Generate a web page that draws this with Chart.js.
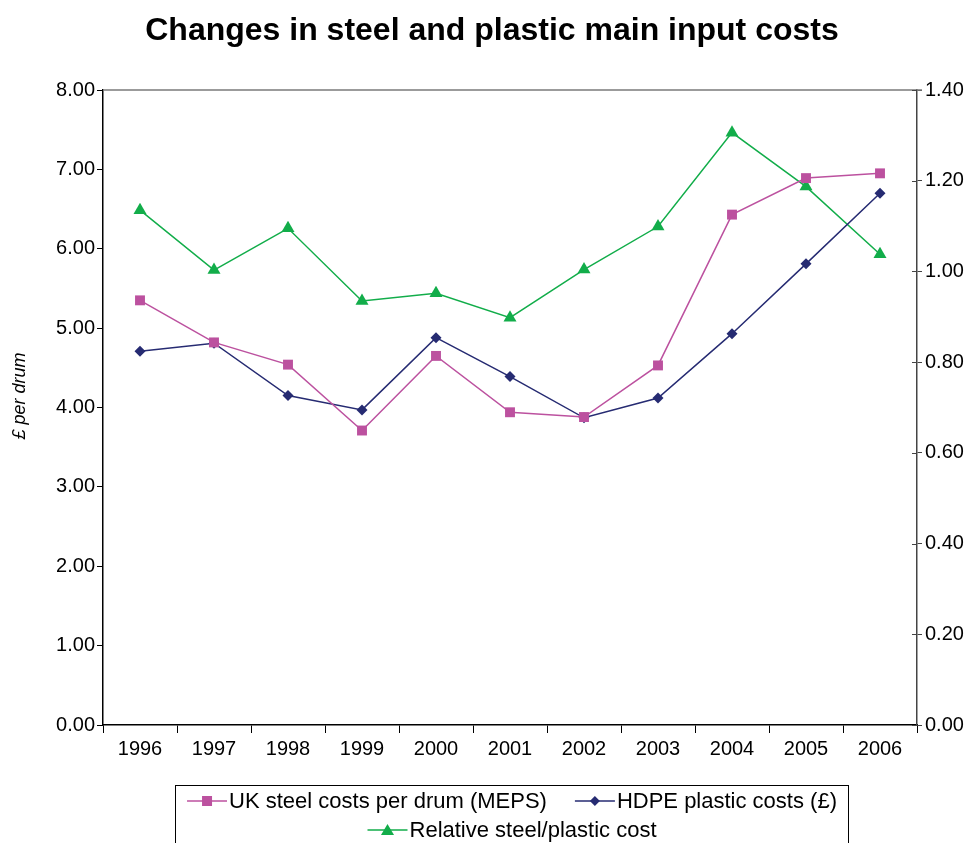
<!DOCTYPE html>
<html>
<head>
<meta charset="utf-8">
<title>Changes in steel and plastic main input costs</title>
<script src="https://cdn.jsdelivr.net/npm/chart.js@4.4.1/dist/chart.umd.min.js"></script>
<style>
  html, body { margin: 0; padding: 0; background: #ffffff; }
  #wrap { width: 978px; height: 843px; position: relative; }
</style>
</head>
<body>
<div id="wrap"><canvas id="chart" width="978" height="843"></canvas></div>
<script>
// Years on the category axis
const years = ['1996', '1997', '1998', '1999', '2000', '2001', '2002', '2003', '2004', '2005', '2006'];

// £ per drum (left axis)
const steelCosts = [5.35, 4.82, 4.54, 3.71, 4.65, 3.94, 3.88, 4.53, 6.43, 6.89, 6.95];
const hdpeCosts  = [4.71, 4.81, 4.15, 3.97, 4.88, 4.39, 3.87, 4.12, 4.93, 5.81, 6.70];

// Ratio of steel to plastic cost (right axis)
const relativeCost = [1.135, 1.003, 1.095, 0.935, 0.952, 0.898, 1.004, 1.099, 1.306, 1.187, 1.038];

// Axis ranges and steps
const leftAxis  = { min: 0, max: 8, step: 1 };
const rightAxis = { min: 0, max: 1.4, step: 0.2 };

const seriesNames = ['UK steel costs per drum (MEPS)', 'HDPE plastic costs (£)', 'Relative steel/plastic cost'];
const chartTitle = 'Changes in steel and plastic main input costs';
const leftAxisTitle = '£ per drum';

const PINK = '#BC519F';
const NAVY = '#262B72';
const GREEN = '#12AD4A';
const FONT = '"Liberation Sans", Arial, Helvetica, sans-serif';

function drawMarker(ctx, style, x, y, color) {
  ctx.save();
  ctx.fillStyle = color;
  ctx.beginPath();
  if (style === 'rect') {
    ctx.rect(x - 5, y - 5, 10, 10);
  } else if (style === 'rectRot') {
    ctx.moveTo(x, y - 5); ctx.lineTo(x + 5, y); ctx.lineTo(x, y + 5); ctx.lineTo(x - 5, y);
    ctx.closePath();
  } else {
    ctx.moveTo(x, y - 6); ctx.lineTo(x + 6.5, y + 5); ctx.lineTo(x - 6.5, y + 5);
    ctx.closePath();
  }
  ctx.fill();
  ctx.restore();
}

// Title, rotated axis title, frame details and the boxed legend
const decorations = {
  id: 'decorations',
  afterDraw(chart) {
    const { ctx, chartArea } = chart;
    ctx.save();

    // title
    ctx.fillStyle = '#000';
    ctx.font = 'bold 32px ' + FONT;
    ctx.textAlign = 'center';
    ctx.textBaseline = 'middle';
    ctx.fillText(chartTitle, 492, 31);

    // left axis title
    ctx.save();
    ctx.translate(20, 396);
    ctx.rotate(-Math.PI / 2);
    ctx.font = 'italic 18px ' + FONT;
    ctx.fillText(leftAxisTitle, 0, 0);
    ctx.restore();

    // top frame line
    ctx.strokeStyle = '#7a7a7a';
    ctx.lineWidth = 1.5;
    ctx.beginPath();
    ctx.moveTo(chartArea.left, chartArea.top);
    ctx.lineTo(chartArea.right + 5, chartArea.top);
    ctx.stroke();

    // inner half of right-axis tick marks
    const y2 = chart.scales.y2;
    ctx.strokeStyle = '#444';
    ctx.lineWidth = 1;
    y2.ticks.forEach(t => {
      const py = Math.round(y2.getPixelForValue(t.value)) + 0.5;
      ctx.beginPath();
      ctx.moveTo(chartArea.right - 5, py);
      ctx.lineTo(chartArea.right, py);
      ctx.stroke();
    });

    // legend box
    const box = { left: 175.5, top: 785.5, right: 848.5, bottom: 900 };
    ctx.strokeStyle = '#000';
    ctx.lineWidth = 1;
    ctx.strokeRect(box.left, box.top, box.right - box.left, box.bottom - box.top);

    ctx.font = '22px ' + FONT;
    ctx.textAlign = 'left';
    const lineLen = 40;
    const gap = 28;
    const ds = chart.data.datasets;
    const rows = [[0, 1], [2]];
    const rowY = [801, 830];
    const cx = (box.left + box.right) / 2;
    rows.forEach((row, ri) => {
      const widths = row.map(i => lineLen + 2 + ctx.measureText(ds[i].label).width);
      const total = widths.reduce((a, b) => a + b, 0) + gap * (row.length - 1);
      let x = cx - total / 2;
      row.forEach((i, k) => {
        const y = rowY[ri];
        ctx.strokeStyle = ds[i].borderColor;
        ctx.lineWidth = 1.5;
        ctx.beginPath();
        ctx.moveTo(x, y);
        ctx.lineTo(x + lineLen, y);
        ctx.stroke();
        drawMarker(ctx, ds[i].pointStyle, x + lineLen / 2, y, ds[i].pointBackgroundColor);
        ctx.fillStyle = '#000';
        ctx.fillText(ds[i].label, x + lineLen + 2, y + 1);
        x += widths[k] + gap;
      });
    });

    ctx.restore();
  }
};

new Chart(document.getElementById('chart'), {
  type: 'line',
  data: {
    labels: years,
    datasets: [
      {
        label: seriesNames[0],
        data: steelCosts,
        yAxisID: 'y',
        borderColor: PINK,
        backgroundColor: PINK,
        pointBackgroundColor: PINK,
        pointBorderColor: PINK,
        pointStyle: 'rect',
        pointRadius: 7,
        pointBorderWidth: 0,
        borderWidth: 1.5,
        tension: 0
      },
      {
        label: seriesNames[1],
        data: hdpeCosts,
        yAxisID: 'y',
        borderColor: NAVY,
        backgroundColor: NAVY,
        pointBackgroundColor: NAVY,
        pointBorderColor: NAVY,
        pointStyle: 'rectRot',
        pointRadius: 5.5,
        pointBorderWidth: 0,
        borderWidth: 1.5,
        tension: 0
      },
      {
        label: seriesNames[2],
        data: relativeCost,
        yAxisID: 'y2',
        borderColor: GREEN,
        backgroundColor: GREEN,
        pointBackgroundColor: GREEN,
        pointBorderColor: GREEN,
        pointStyle: 'triangle',
        pointRadius: 7.5,
        pointBorderWidth: 0,
        borderWidth: 1.5,
        tension: 0
      }
    ]
  },
  options: {
    responsive: false,
    animation: false,
    events: [],
    layout: { padding: { top: 90, left: 0, right: 0, bottom: 0 } },
    plugins: {
      legend: { display: false },
      title: { display: false },
      tooltip: { enabled: false }
    },
    scales: {
      x: {
        type: 'category',
        offset: true,
        grid: { offset: true, drawOnChartArea: false, drawTicks: true, tickLength: 8, color: '#000', lineWidth: 1 },
        border: { display: true, color: '#000', width: 1.5 },
        ticks: { color: '#000', font: { family: FONT, size: 20 }, padding: 4, maxRotation: 0, autoSkip: false },
        afterFit: s => { s.height = 118; }
      },
      y: {
        position: 'left',
        min: leftAxis.min,
        max: leftAxis.max,
        grid: { drawOnChartArea: false, drawTicks: true, tickLength: 6, color: '#000' },
        border: { display: true, color: '#000', width: 1.5 },
        ticks: {
          stepSize: leftAxis.step,
          color: '#000',
          font: { family: FONT, size: 20 },
          padding: 2,
          callback: v => Number(v).toFixed(2)
        },
        afterFit: s => { s.width = 103; }
      },
      y2: {
        position: 'right',
        min: rightAxis.min,
        max: rightAxis.max,
        grid: { drawOnChartArea: false, drawTicks: true, tickLength: 5, color: '#444' },
        border: { display: true, color: '#444', width: 1.5 },
        ticks: {
          stepSize: rightAxis.step,
          color: '#000',
          font: { family: FONT, size: 20 },
          padding: 3,
          callback: v => Number(v).toFixed(2)
        },
        afterFit: s => { s.width = 61; }
      }
    }
  },
  plugins: [decorations]
});
</script>
</body>
</html>
